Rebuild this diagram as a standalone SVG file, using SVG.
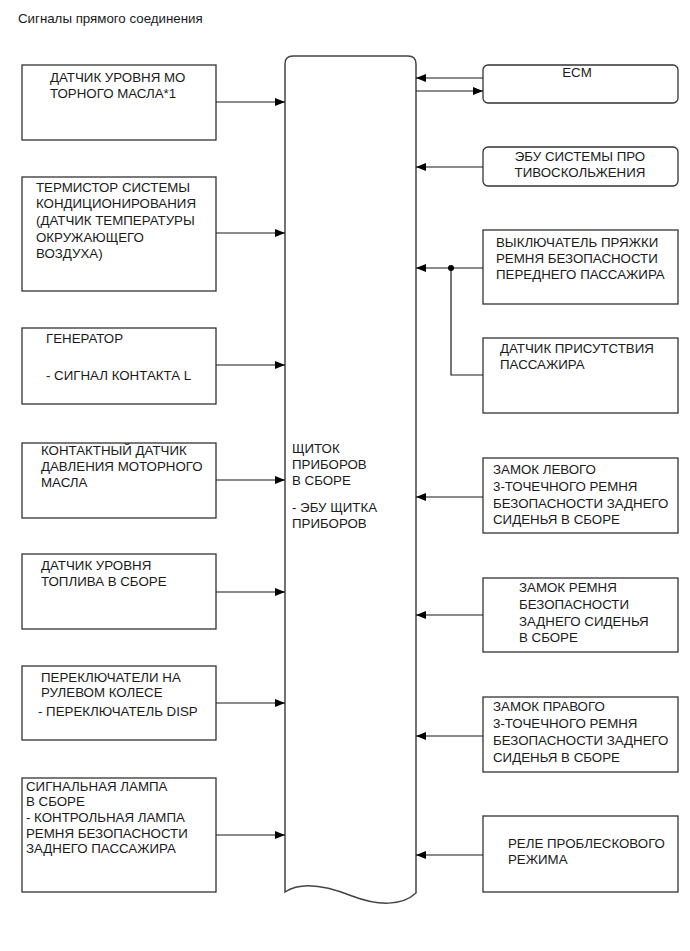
<svg xmlns="http://www.w3.org/2000/svg" width="690" height="951" viewBox="0 0 690 951">
<style>
  text { font-family: "Liberation Sans", Arial, sans-serif; font-size: 13.3px; fill: #1a1a1a; }
  .box { fill: #ffffff; stroke: #333333; stroke-width: 1.3; }
  .main { fill: #ffffff; stroke: #444444; stroke-width: 1.5; }
  .wire { fill: none; stroke: #1a1a1a; stroke-width: 1.2; }
  .mid { text-anchor: middle; }
</style>
<defs>
  <marker id="arr" viewBox="0 0 10 8" refX="10" refY="4" markerWidth="10" markerHeight="8" markerUnits="userSpaceOnUse" orient="auto">
    <path d="M0,0 L10,4 L0,8 Z" fill="#000000"/>
  </marker>
</defs>
<rect width="690" height="951" fill="#ffffff"/>
<text x="18" y="23">Сигналы прямого соединения</text>

<g id="cluster">
  <path class="main" d="M285,892 L285,64 Q285,56 293,56 L408,56 Q416,56 416,64 L416,893 C402,906 378,906 352,896 C322,884 300,882 285,892 Z"/>
  <text x="292" y="453">ЩИТОК</text>
  <text x="292" y="469">ПРИБОРОВ</text>
  <text x="292" y="485">В СБОРЕ</text>
  <text x="292" y="512">- ЭБУ ЩИТКА</text>
  <text x="292" y="528">ПРИБОРОВ</text>
</g>

<g id="oil-level">
  <rect class="box" x="22" y="65" width="194" height="75"/>
  <text x="50" y="82">ДАТЧИК УРОВНЯ МО</text>
  <text x="50" y="98">ТОРНОГО МАСЛА*1</text>
</g>
<g id="thermistor">
  <rect class="box" x="22" y="177" width="194" height="114"/>
  <text x="36" y="192">ТЕРМИСТОР СИСТЕМЫ</text>
  <text x="36" y="208">КОНДИЦИОНИРОВАНИЯ</text>
  <text x="36" y="225">(ДАТЧИК ТЕМПЕРАТУРЫ</text>
  <text x="36" y="242">ОКРУЖАЮЩЕГО</text>
  <text x="36" y="258">ВОЗДУХА)</text>
</g>
<g id="generator">
  <rect class="box" x="22" y="328" width="194" height="76"/>
  <text x="46" y="343">ГЕНЕРАТОР</text>
  <text x="46" y="380">- СИГНАЛ КОНТАКТА L</text>
</g>
<g id="oil-pressure">
  <rect class="box" x="22" y="443" width="194" height="75"/>
  <text x="41" y="455">КОНТАКТНЫЙ ДАТЧИК</text>
  <text x="41" y="471">ДАВЛЕНИЯ МОТОРНОГО</text>
  <text x="41" y="487">МАСЛА</text>
</g>
<g id="fuel-level">
  <rect class="box" x="22" y="554" width="194" height="75"/>
  <text x="41" y="570">ДАТЧИК УРОВНЯ</text>
  <text x="41" y="586">ТОПЛИВА В СБОРЕ</text>
</g>
<g id="steering-switches">
  <rect class="box" x="22" y="666" width="194" height="74"/>
  <text x="41" y="682">ПЕРЕКЛЮЧАТЕЛИ НА</text>
  <text x="41" y="697">РУЛЕВОМ КОЛЕСЕ</text>
  <text x="38" y="716">- ПЕРЕКЛЮЧАТЕЛЬ DISP</text>
</g>
<g id="warning-lamp">
  <rect class="box" x="22" y="778" width="194" height="114"/>
  <text x="26" y="791">СИГНАЛЬНАЯ ЛАМПА</text>
  <text x="26" y="806">В СБОРЕ</text>
  <text x="26" y="822">- КОНТРОЛЬНАЯ ЛАМПА</text>
  <text x="26" y="838">РЕМНЯ БЕЗОПАСНОСТИ</text>
  <text x="26" y="853">ЗАДНЕГО ПАССАЖИРА</text>
</g>

<g id="ecm">
  <rect class="box" x="483" y="65" width="195" height="38" rx="5"/>
  <text class="mid" x="577" y="77">ECM</text>
</g>
<g id="skid-control">
  <rect class="box" x="483" y="147" width="195" height="39" rx="5"/>
  <text class="mid" x="580" y="161">ЭБУ СИСТЕМЫ ПРО</text>
  <text class="mid" x="580" y="177">ТИВОСКОЛЬЖЕНИЯ</text>
</g>
<g id="front-buckle">
  <rect class="box" x="483" y="230" width="195" height="74"/>
  <text x="496" y="247">ВЫКЛЮЧАТЕЛЬ ПРЯЖКИ</text>
  <text x="496" y="263">РЕМНЯ БЕЗОПАСНОСТИ</text>
  <text x="496" y="279">ПЕРЕДНЕГО ПАССАЖИРА</text>
</g>
<g id="occupant-sensor">
  <rect class="box" x="483" y="338" width="195" height="75"/>
  <text x="500" y="353">ДАТЧИК ПРИСУТСТВИЯ</text>
  <text x="500" y="369">ПАССАЖИРА</text>
</g>
<g id="rear-left-buckle">
  <rect class="box" x="483" y="458" width="195" height="75"/>
  <text x="493" y="474">ЗАМОК ЛЕВОГО</text>
  <text x="493" y="491">3-ТОЧЕЧНОГО РЕМНЯ</text>
  <text x="493" y="508">БЕЗОПАСНОСТИ ЗАДНЕГО</text>
  <text x="493" y="524">СИДЕНЬЯ В СБОРЕ</text>
</g>
<g id="rear-center-buckle">
  <rect class="box" x="483" y="578" width="195" height="74"/>
  <text x="519" y="592">ЗАМОК РЕМНЯ</text>
  <text x="519" y="609">БЕЗОПАСНОСТИ</text>
  <text x="519" y="626">ЗАДНЕГО СИДЕНЬЯ</text>
  <text x="519" y="642">В СБОРЕ</text>
</g>
<g id="rear-right-buckle">
  <rect class="box" x="483" y="697" width="195" height="75"/>
  <text x="493" y="711">ЗАМОК ПРАВОГО</text>
  <text x="493" y="728">3-ТОЧЕЧНОГО РЕМНЯ</text>
  <text x="493" y="745">БЕЗОПАСНОСТИ ЗАДНЕГО</text>
  <text x="493" y="762">СИДЕНЬЯ В СБОРЕ</text>
</g>
<g id="flasher-relay">
  <rect class="box" x="483" y="816" width="195" height="76"/>
  <text x="508" y="848">РЕЛЕ ПРОБЛЕСКОВОГО</text>
  <text x="508" y="864">РЕЖИМА</text>
</g>

<g id="connectors">
  <line class="wire" x1="216" y1="102" x2="285" y2="102" marker-end="url(#arr)"/>
  <line class="wire" x1="216" y1="233" x2="285" y2="233" marker-end="url(#arr)"/>
  <line class="wire" x1="216" y1="365" x2="285" y2="365" marker-end="url(#arr)"/>
  <line class="wire" x1="216" y1="480" x2="285" y2="480" marker-end="url(#arr)"/>
  <line class="wire" x1="216" y1="592" x2="285" y2="592" marker-end="url(#arr)"/>
  <line class="wire" x1="216" y1="703" x2="285" y2="703" marker-end="url(#arr)"/>
  <line class="wire" x1="216" y1="835" x2="285" y2="835" marker-end="url(#arr)"/>

  <line class="wire" x1="483" y1="78" x2="416" y2="78" marker-end="url(#arr)"/>
  <line class="wire" x1="416" y1="91" x2="483" y2="91" marker-end="url(#arr)"/>
  <line class="wire" x1="483" y1="167" x2="416" y2="167" marker-end="url(#arr)"/>
  <line class="wire" x1="483" y1="268" x2="416" y2="268" marker-end="url(#arr)"/>
  <polyline class="wire" points="483,375 451,375 451,268"/>
  <circle cx="451" cy="268" r="3" fill="#000000"/>
  <line class="wire" x1="483" y1="497" x2="416" y2="497" marker-end="url(#arr)"/>
  <line class="wire" x1="483" y1="615" x2="416" y2="615" marker-end="url(#arr)"/>
  <line class="wire" x1="483" y1="736" x2="416" y2="736" marker-end="url(#arr)"/>
  <line class="wire" x1="483" y1="855" x2="416" y2="855" marker-end="url(#arr)"/>
</g>
</svg>
